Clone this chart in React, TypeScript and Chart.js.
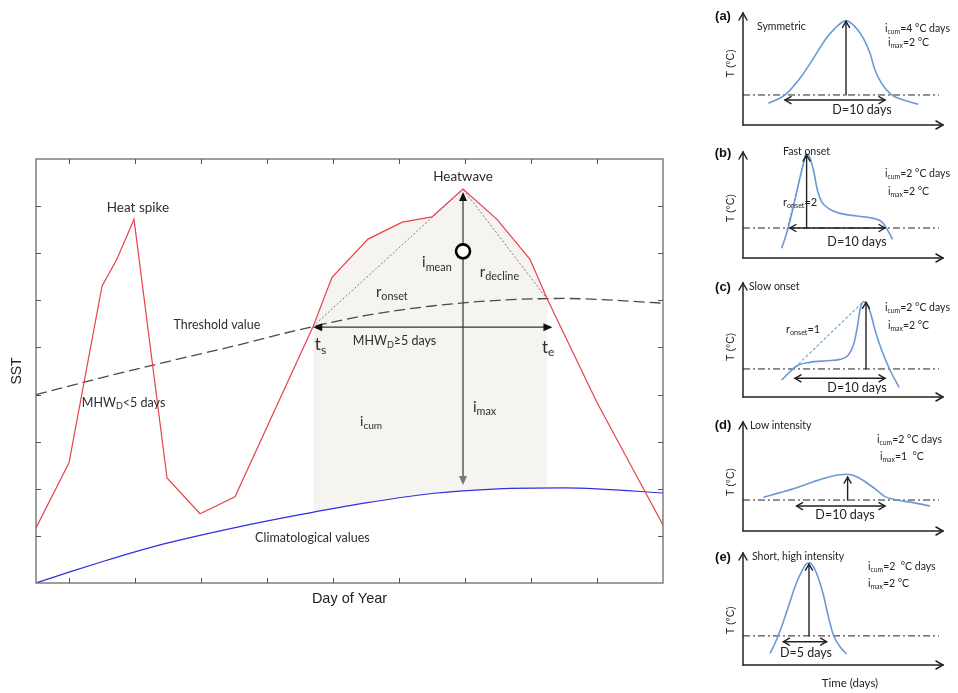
import React, { useEffect, useRef } from "react";
import { Chart, registerables } from "chart.js";
Chart.register(...registerables);

// ---------------- main schematic data ----------------
const sstDay = [0, 1, 2, 2.45, 2.97, 3.97, 4.97, 6.03, 8.4, 8.97, 10.06, 11.1, 12.0, 12.94, 13.97, 14.97, 15.5, 17.0, 19];
const sstValue = [1.17, 2.55, 6.3, 6.87, 7.72, 2.23, 1.47, 1.83, 5.45, 6.49, 7.3, 7.66, 7.77, 8.36, 7.72, 6.87, 6.02, 3.83, 1.23];
const thresholdDay = [0, 2, 4, 6, 8, 10, 12, 14, 16, 17, 19];
const thresholdValue = [4.0, 4.36, 4.7, 5.03, 5.38, 5.68, 5.88, 6.0, 6.04, 6.02, 5.94];
const climDay = [0, 1, 2, 3, 4, 6, 8, 10, 12, 14, 16, 17, 19];
const climValue = [0, 0.23, 0.45, 0.66, 0.85, 1.17, 1.45, 1.7, 1.9, 2.0, 2.02, 2.0, 1.91];
const eventStartDay = 8.4;
const eventEndDay = 15.5;
const rateLineDay = [8.4, 12.94, 15.5];
const rateLineValue = [5.45, 8.36, 6.02];
const peakDay = 12.94;
const imaxTop = 8.3;
const imaxBottom = 2.08;
const imeanValue = 7.04;
const durationLevel = 5.43;
const durationEndDay = 15.65;
const xTickDays = [1, 3, 5, 7, 9, 11, 13, 15, 17];
const yTickValues = [1, 2, 3, 4, 5, 6, 7, 8];

// ---------------- small panel data ----------------
const panelLetters = ["(a)", "(b)", "(c)", "(d)", "(e)"];
const panelTitles = ["Symmetric", "Fast onset", "Slow onset", "Low intensity", "Short, high intensity"];
const panelIcum = ["=4 °C days", "=2 °C days", "=2 °C days", "=2 °C days", "=2  °C days"];
const panelImax = ["=2 °C", "=2 °C", "=2 °C", "=1  °C", "=2 °C"];
const panelDuration = ["D=10 days", "D=10 days", "D=10 days", "D=10 days", "D=5 days"];
const panelThreshold = [2.68, 2.83, 2.46, 2.84, 2.6];
const panelPeakTime = [5.15, 3.18, 6.15, 5.23, 3.3];
const panelPeakTemp = [9.25, 9.7, 8.3, 4.95, 9.0];
const panelDStart = [2.1, 2.35, 2.6, 2.68, 2.02];
const panelDEnd = [7.1, 7.1, 7.1, 7.1, 4.18];
const panelDLevel = [2.23, 2.83, 1.64, 2.29, 2.08];
const panelOnsetLabel = ["", "=2", "=1", "", ""];

const aTime = [1.27, 2.1, 2.85, 3.52, 4.1, 4.6, 5.15, 5.6, 6.02, 6.35, 6.6, 6.93, 7.43, 8.02, 8.77];
const aTemp = [1.94, 2.68, 4.17, 5.95, 7.59, 8.63, 9.32, 8.78, 7.74, 6.4, 4.91, 3.72, 2.68, 2.23, 1.85];
const bTime = [1.93, 2.18, 2.52, 2.82, 3.02, 3.15, 3.32, 3.52, 3.72, 3.93, 4.27, 4.85, 5.68, 6.52, 6.93, 7.18, 7.48];
const bTemp = [0.91, 2.33, 4.84, 7.36, 8.93, 9.81, 9.56, 8.3, 6.42, 5.31, 4.69, 4.21, 3.96, 3.74, 3.43, 2.8, 1.76];
const cTime = [1.93, 2.35, 2.68, 3.35, 4.18, 4.85, 5.27, 5.55, 5.72, 5.85, 6.02, 6.18, 6.38, 6.6, 6.93, 7.35, 7.8];
const cTemp = [1.49, 2.22, 2.72, 3.04, 3.18, 3.3, 3.68, 4.71, 6.17, 7.63, 8.36, 8.22, 7.34, 5.88, 4.12, 2.37, 0.85];
const dTime = [1.02, 1.85, 2.68, 3.52, 4.35, 5.18, 5.68, 6.18, 6.68, 7.1, 7.68, 8.52, 9.35];
const dTemp = [3.09, 3.52, 3.97, 4.52, 4.98, 5.2, 4.98, 4.43, 3.76, 3.15, 2.84, 2.6, 2.29];
const eTime = [1.35, 1.6, 1.93, 2.27, 2.6, 2.93, 3.15, 3.32, 3.52, 3.77, 4.02, 4.27, 4.52, 4.85, 5.18];
const eTemp = [1.04, 1.94, 3.42, 5.21, 6.99, 8.33, 8.99, 9.13, 8.78, 7.74, 6.25, 4.31, 2.68, 1.63, 0.98];
const curveTimes = [aTime, bTime, cTime, dTime, eTime];
const curveTemps = [aTemp, bTemp, cTemp, dTemp, eTemp];
const bOnsetTime = [2.2, 3.15];
const bOnsetTemp = [2.64, 9.81];
const cOnsetTime = [2.6, 6.02];
const cOnsetTemp = [2.6, 8.36];
const onsetTimes = [null, bOnsetTime, cOnsetTime, null, null];
const onsetTemps = [null, bOnsetTemp, cOnsetTemp, null, null];

// ---------------- layout (positions only) ----------------
const FONT = 'Lato, "Open Sans", sans-serif';
const ARIAL = '"Liberation Sans", Arial, sans-serif';

type Seg = [string, boolean];
type Note = { segs: Seg[]; x: number; y: number; size: number; align: "left" | "center" };

const mainNotes: Note[] = [
  { segs: [["Heat spike", false]], x: 3.09, y: 7.96, size: 13.5, align: "center" },
  { segs: [["Heatwave", false]], x: 12.94, y: 8.62, size: 13.5, align: "center" },
  { segs: [["Threshold value", false]], x: 5.48, y: 5.47, size: 12.5, align: "center" },
  { segs: [["MHW", false], ["D", true], ["<5 days", false]], x: 1.39, y: 3.83, size: 12.5, align: "left" },
  { segs: [["MHW", false], ["D", true], ["≥5 days", false]], x: 9.6, y: 5.13, size: 12.5, align: "left" },
  { segs: [["t", false], ["s", true]], x: 8.45, y: 5.06, size: 17, align: "left" },
  { segs: [["t", false], ["e", true]], x: 15.33, y: 5.0, size: 17, align: "left" },
  { segs: [["i", false], ["mean", true]], x: 11.7, y: 6.8, size: 15, align: "left" },
  { segs: [["r", false], ["decline", true]], x: 13.45, y: 6.6, size: 15, align: "left" },
  { segs: [["r", false], ["onset", true]], x: 10.3, y: 6.17, size: 15, align: "left" },
  { segs: [["i", false], ["max", true]], x: 13.24, y: 3.74, size: 15, align: "left" },
  { segs: [["i", false], ["cum", true]], x: 9.82, y: 3.43, size: 14, align: "left" },
  { segs: [["Climatological values", false]], x: 6.64, y: 0.96, size: 12.5, align: "left" },
];

const panelLayout = [
  { top: 13, bottom: 125, tY: 5.5, letterY: 9.73, titleX: 0.7, titleY: 8.75, icumX: 7.1, icumY: 8.57, imaxX: 7.25, imaxY: 7.32, dX: 5.95, dY: 1.34, onsetX: 0, onsetY: 0 },
  { top: 152, bottom: 258, tY: 4.7, letterY: 9.9, titleX: 2.0, titleY: 10.0, icumX: 7.1, icumY: 8.0, imaxX: 7.25, imaxY: 6.3, dX: 5.7, dY: 1.5, onsetX: 2.0, onsetY: 5.2 },
  { top: 283, bottom: 397, tY: 4.4, letterY: 9.65, titleX: 0.3, titleY: 9.65, icumX: 7.1, icumY: 7.8, imaxX: 7.25, imaxY: 6.3, dX: 5.7, dY: 0.8, onsetX: 2.15, onsetY: 5.9 },
  { top: 422, bottom: 531, tY: 4.5, letterY: 9.7, titleX: 0.35, titleY: 9.7, icumX: 6.7, icumY: 8.35, imaxX: 6.85, imaxY: 6.8, dX: 5.1, dY: 1.47, onsetX: 0, onsetY: 0 },
  { top: 553, bottom: 665, tY: 4.0, letterY: 9.64, titleX: 0.45, titleY: 9.64, icumX: 6.25, icumY: 8.75, imaxX: 6.25, imaxY: 7.23, dX: 3.15, dY: 1.07, onsetX: 0, onsetY: 0 },
];

// ---------------- helpers ----------------
function zip(xs: number[], ys: number[]) {
  return xs.map((x, i) => ({ x, y: ys[i] }));
}

function drawRich(ctx: CanvasRenderingContext2D, segs: Seg[], x: number, y: number, size: number, family: string, align: string, color: string, weight = "normal", subScale = 0.72) {
  const widths = segs.map(([t, sub]) => {
    ctx.font = `${weight} ${sub ? size * subScale : size}px ${family}`;
    return ctx.measureText(t).width;
  });
  const total = widths.reduce((a, b) => a + b, 0);
  let cx = align === "center" ? x - total / 2 : align === "right" ? x - total : x;
  ctx.fillStyle = color;
  ctx.textAlign = "left";
  ctx.textBaseline = "middle";
  segs.forEach(([t, sub], i) => {
    ctx.font = `${weight} ${sub ? size * subScale : size}px ${family}`;
    ctx.fillText(t, cx, sub ? y + size * 0.3 : y);
    cx += widths[i];
  });
}

function arrowHead(ctx: CanvasRenderingContext2D, tx: number, ty: number, fx: number, fy: number, len: number, half: number, filled: boolean) {
  const ang = Math.atan2(ty - fy, tx - fx);
  const bx = tx - len * Math.cos(ang);
  const by = ty - len * Math.sin(ang);
  const px = -Math.sin(ang) * half;
  const py = Math.cos(ang) * half;
  ctx.beginPath();
  ctx.moveTo(bx + px, by + py);
  ctx.lineTo(tx, ty);
  ctx.lineTo(bx - px, by - py);
  if (filled) {
    ctx.closePath();
    ctx.fill();
  } else {
    ctx.stroke();
  }
}

function line(ctx: CanvasRenderingContext2D, x1: number, y1: number, x2: number, y2: number) {
  ctx.beginPath();
  ctx.moveTo(x1, y1);
  ctx.lineTo(x2, y2);
  ctx.stroke();
}

// ---------------- main chart ----------------
const mainDecor = {
  id: "mainDecor",
  beforeDatasetDraw(chart: any, args: any) {
    if (args.index !== 0) return;
    const { ctx, scales } = chart;
    const x = scales.x, y = scales.y;
    ctx.save();
    const vx = x.getPixelForValue(peakDay);
    const vTop = y.getPixelForValue(imaxTop);
    const vBot = y.getPixelForValue(imaxBottom);
    ctx.strokeStyle = "#444";
    ctx.lineWidth = 1.3;
    line(ctx, vx, vTop + 6, vx, vBot - 6);
    ctx.fillStyle = "#111";
    arrowHead(ctx, vx, vTop, vx, vBot, 9, 4, true);
    ctx.fillStyle = "#777";
    arrowHead(ctx, vx, vBot, vx, vTop, 9, 4, true);
    const hy = y.getPixelForValue(durationLevel);
    const hx1 = x.getPixelForValue(eventStartDay);
    const hx2 = x.getPixelForValue(durationEndDay);
    ctx.strokeStyle = "#333";
    line(ctx, hx1 + 6, hy, hx2 - 6, hy);
    ctx.fillStyle = "#111";
    arrowHead(ctx, hx1, hy, hx2, hy, 9, 4, true);
    arrowHead(ctx, hx2, hy, hx1, hy, 9, 4, true);
    ctx.restore();
  },
  afterDatasetsDraw(chart: any) {
    const { ctx, chartArea: a, scales } = chart;
    const x = scales.x, y = scales.y;
    ctx.save();
    ctx.strokeStyle = "#6a6a6a";
    ctx.lineWidth = 1.3;
    ctx.strokeRect(a.left, a.top, a.right - a.left, a.bottom - a.top);
    ctx.lineWidth = 1;
    ctx.strokeStyle = "#555";
    for (const t of xTickDays) {
      const px = Math.round(x.getPixelForValue(t)) + 0.5;
      line(ctx, px, a.bottom, px, a.bottom - 5);
      line(ctx, px, a.top, px, a.top + 5);
    }
    for (const t of yTickValues) {
      const py = Math.round(y.getPixelForValue(t)) + 0.5;
      line(ctx, a.left, py, a.left + 5, py);
      line(ctx, a.right, py, a.right - 5, py);
    }
    for (const n of mainNotes) {
      drawRich(ctx, n.segs, x.getPixelForValue(n.x), y.getPixelForValue(n.y), n.size, FONT, n.align, "#2e2e2e");
    }
    ctx.fillStyle = "#222";
    ctx.font = `14.5px ${ARIAL}`;
    ctx.textAlign = "center";
    ctx.textBaseline = "middle";
    ctx.fillText("Day of Year", (a.left + a.right) / 2, a.bottom + 16);
    ctx.save();
    ctx.translate(a.left - 19, (a.top + a.bottom) / 2);
    ctx.rotate(-Math.PI / 2);
    ctx.font = `14px ${ARIAL}`;
    ctx.fillText("SST", 0, 0);
    ctx.restore();
    ctx.restore();
  },
};

function MainChart() {
  const ref = useRef<HTMLCanvasElement>(null);
  useEffect(() => {
    const eventDay = sstDay.filter((d) => d >= eventStartDay && d <= eventEndDay);
    const eventValue = sstValue.filter((_, i) => sstDay[i] >= eventStartDay && sstDay[i] <= eventEndDay);
    const chart = new Chart(ref.current as HTMLCanvasElement, {
      type: "line",
      data: {
        datasets: [
          {
            data: [{ x: peakDay, y: imeanValue }],
            showLine: false,
            pointRadius: 7,
            pointBorderWidth: 2.6,
            pointBorderColor: "#000",
            pointBackgroundColor: "#fff",
            order: 0,
          },
          {
            data: zip(sstDay, sstValue),
            borderColor: "#e8424a",
            borderWidth: 1.2,
            pointRadius: 0,
            tension: 0,
            fill: false,
            order: 1,
          },
          {
            data: zip(thresholdDay, thresholdValue),
            borderColor: "#4a4a4a",
            borderWidth: 1.3,
            borderDash: [11, 5],
            pointRadius: 0,
            cubicInterpolationMode: "monotone",
            fill: false,
            order: 2,
          },
          {
            data: zip(climDay, climValue),
            borderColor: "#2f2fe0",
            borderWidth: 1.2,
            pointRadius: 0,
            cubicInterpolationMode: "monotone",
            fill: false,
            order: 3,
          },
          {
            data: zip(rateLineDay, rateLineValue),
            borderColor: "#7c7c7c",
            borderWidth: 1,
            borderDash: [2, 2],
            pointRadius: 0,
            tension: 0,
            fill: false,
            order: 4,
          },
          {
            data: zip(eventDay, eventValue),
            borderWidth: 0,
            borderColor: "rgba(0,0,0,0)",
            backgroundColor: "#f5f4f0",
            pointRadius: 0,
            tension: 0,
            fill: 3,
            order: 5,
          },
        ] as any,
      },
      options: {
        responsive: false,
        animation: false,
        events: [],
        layout: { padding: { left: 36, top: 159, right: 37, bottom: 37 } },
        scales: {
          x: { type: "linear", min: 0, max: 19, display: false },
          y: { type: "linear", min: 0, max: 9, display: false },
        },
        plugins: { legend: { display: false }, tooltip: { enabled: false }, filler: { propagate: false } },
      } as any,
      plugins: [mainDecor],
    });
    return () => chart.destroy();
  }, []);
  return <canvas ref={ref} width={700} height={620} style={{ position: "absolute", left: 0, top: 0 }} />;
}

// ---------------- small panels ----------------
function makePanelDecor(idx: number) {
  const L = panelLayout[idx];
  return {
    id: "panelDecor" + idx,
    afterDatasetsDraw(chart: any) {
      const { ctx, chartArea: a, scales } = chart;
      const x = scales.x, y = scales.y;
      ctx.save();
      ctx.strokeStyle = "#222";
      ctx.lineWidth = 1.5;
      ctx.lineCap = "round";
      line(ctx, a.left, a.bottom, a.left, a.top);
      arrowHead(ctx, a.left, a.top, a.left, a.bottom, 7, 4, false);
      line(ctx, a.left, a.bottom, a.right, a.bottom);
      arrowHead(ctx, a.right, a.bottom, a.left, a.bottom, 7, 4, false);
      const vx = x.getPixelForValue(panelPeakTime[idx]);
      const v1 = y.getPixelForValue(panelThreshold[idx]);
      const v2 = y.getPixelForValue(panelPeakTemp[idx]);
      ctx.lineWidth = 1.4;
      line(ctx, vx, v1, vx, v2);
      arrowHead(ctx, vx, v2, vx, v1, 6, 3.5, false);
      const dy = y.getPixelForValue(panelDLevel[idx]);
      const d1 = x.getPixelForValue(panelDStart[idx]);
      const d2 = x.getPixelForValue(panelDEnd[idx]);
      line(ctx, d1, dy, d2, dy);
      arrowHead(ctx, d1, dy, d2, dy, 6, 3.5, false);
      arrowHead(ctx, d2, dy, d1, dy, 6, 3.5, false);
      const col = "#222";
      drawRich(ctx, [[panelLetters[idx], false]], x.getPixelForValue(-1.0), y.getPixelForValue(L.letterY), 13, ARIAL, "center", "#111", "bold");
      drawRich(ctx, [[panelTitles[idx], false]], x.getPixelForValue(L.titleX), y.getPixelForValue(L.titleY), 10.5, FONT, "left", col);
      drawRich(ctx, [["i", false], ["cum", true], [panelIcum[idx], false]], x.getPixelForValue(L.icumX), y.getPixelForValue(L.icumY), 10.5, FONT, "left", col, "normal", 0.65);
      drawRich(ctx, [["i", false], ["max", true], [panelImax[idx], false]], x.getPixelForValue(L.imaxX), y.getPixelForValue(L.imaxY), 10.5, FONT, "left", col, "normal", 0.65);
      drawRich(ctx, [[panelDuration[idx], false]], x.getPixelForValue(L.dX), y.getPixelForValue(L.dY), 12.5, FONT, "center", col);
      if (panelOnsetLabel[idx]) {
        drawRich(ctx, [["r", false], ["onset", true], [panelOnsetLabel[idx], false]], x.getPixelForValue(L.onsetX), y.getPixelForValue(L.onsetY), 11, FONT, "left", col, "normal", 0.65);
      }
      if (idx === 4) {
        drawRich(ctx, [["Time (days)", false]], x.getPixelForValue(5.35), a.bottom + 18, 11.5, FONT, "center", col);
      }
      ctx.save();
      ctx.translate(a.left - 12, y.getPixelForValue(L.tY));
      ctx.rotate(-Math.PI / 2);
      ctx.fillStyle = col;
      ctx.font = `10.5px ${ARIAL}`;
      ctx.textAlign = "center";
      ctx.textBaseline = "middle";
      ctx.fillText("T (°C)", 0, 0);
      ctx.restore();
      ctx.restore();
    },
  };
}

function Panel({ idx }: { idx: number }) {
  const ref = useRef<HTMLCanvasElement>(null);
  const L = panelLayout[idx];
  const padTop = Math.min(14, L.top);
  const padBottom = idx === 4 ? 28 : 10;
  const h = L.bottom - L.top + padTop + padBottom;
  useEffect(() => {
    const datasets: any[] = [
      {
        data: zip(curveTimes[idx], curveTemps[idx]),
        borderColor: "#6b9ad3",
        borderWidth: 1.6,
        pointRadius: 0,
        cubicInterpolationMode: "monotone",
        fill: false,
        clip: false,
      },
      {
        data: [
          { x: 0, y: panelThreshold[idx] },
          { x: 9.8, y: panelThreshold[idx] },
        ],
        borderColor: "#222",
        borderWidth: 1,
        borderDash: [7, 3, 2, 3],
        pointRadius: 0,
        fill: false,
        clip: false,
      },
    ];
    const ot = onsetTimes[idx];
    const ov = onsetTemps[idx];
    if (ot && ov) {
      datasets.push({
        data: zip(ot, ov),
        borderColor: "#7ba6dc",
        borderWidth: 1.2,
        borderDash: [3, 2],
        pointRadius: 0,
        fill: false,
        clip: false,
      });
    }
    const chart = new Chart(ref.current as HTMLCanvasElement, {
      type: "line",
      data: { datasets },
      options: {
        responsive: false,
        animation: false,
        events: [],
        layout: { padding: { left: 43, right: 15, top: padTop, bottom: padBottom } },
        scales: {
          x: { type: "linear", min: 0, max: 10, display: false },
          y: { type: "linear", min: 0, max: 10, display: false },
        },
        plugins: { legend: { display: false }, tooltip: { enabled: false } },
      } as any,
      plugins: [makePanelDecor(idx)],
    });
    return () => chart.destroy();
  }, [idx]);
  return <canvas ref={ref} width={258} height={h} style={{ position: "absolute", left: 700, top: L.top - padTop }} />;
}

export default function App() {
  return (
    <div style={{ position: "fixed", left: 0, top: 0, width: 958, height: 693, background: "#fff", overflow: "hidden" }}>
      <MainChart />
      {panelLayout.map((_, i) => (
        <Panel key={i} idx={i} />
      ))}
    </div>
  );
}
